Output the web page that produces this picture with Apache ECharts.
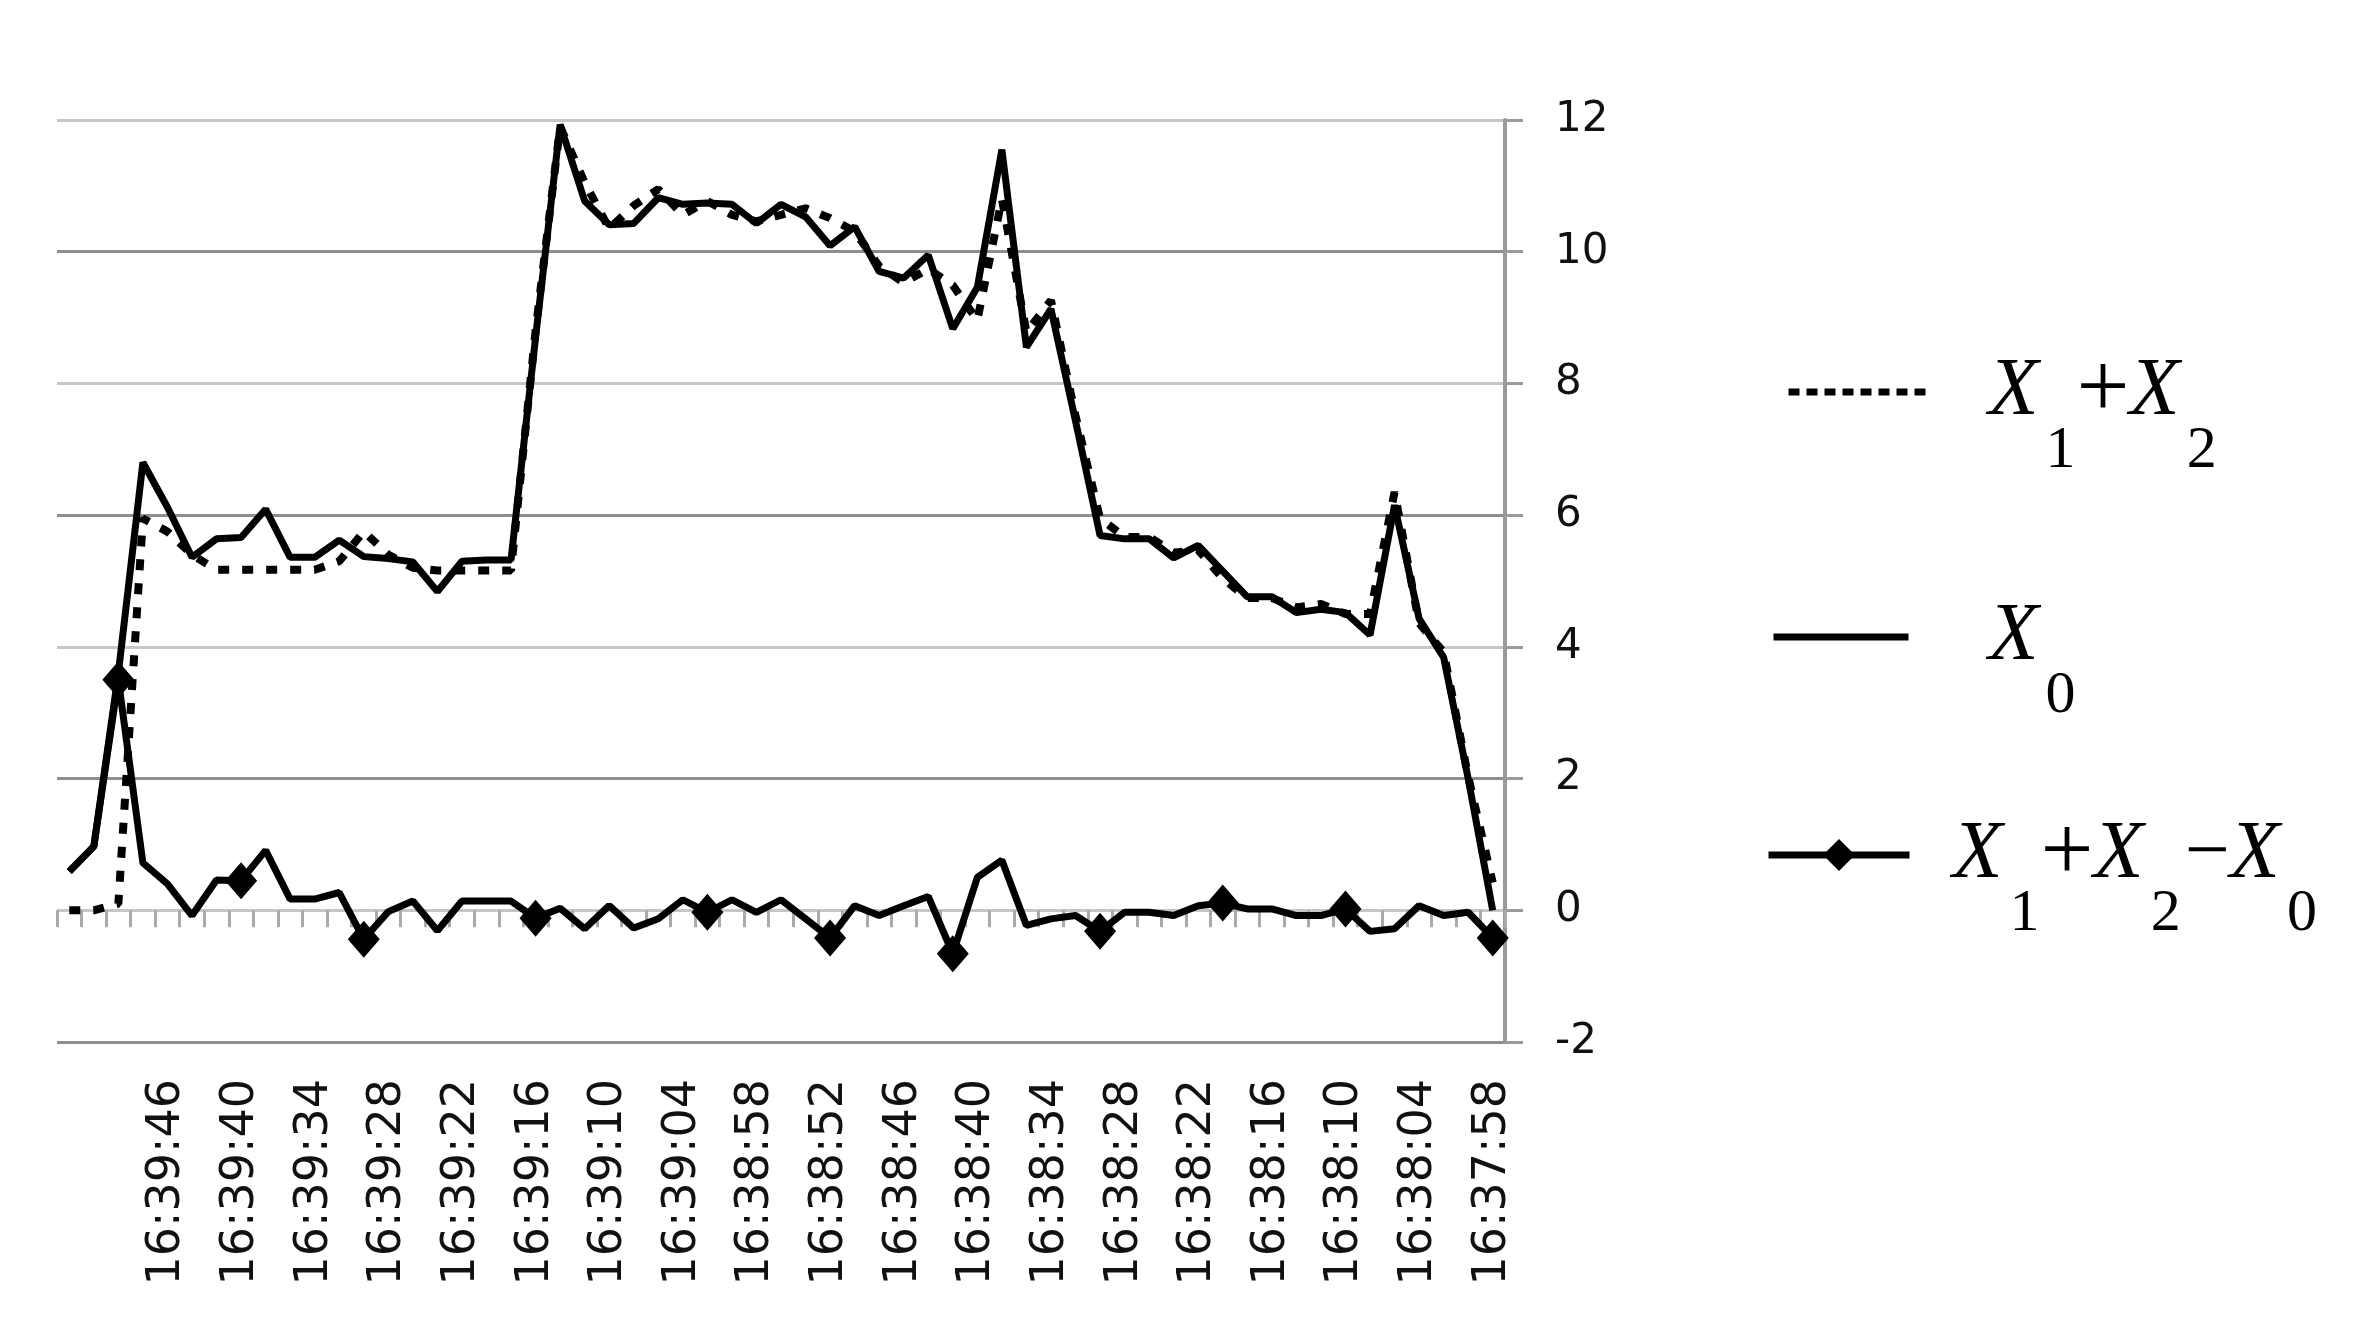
<!DOCTYPE html>
<html>
<head>
<meta charset="utf-8">
<script src="https://cdn.jsdelivr.net/npm/echarts@6/dist/echarts.min.js"></script>
<style>
html,body{margin:0;padding:0;background:#fff;}
#chart{width:2357px;height:1328px;}
</style>
</head>
<body>
<div id="chart"></div>
<script>
// categories in display order (left to right)
const categories = ['16:39:54','16:39:52','16:39:50','16:39:48','16:39:46','16:39:44','16:39:42','16:39:40','16:39:38','16:39:36','16:39:34','16:39:32','16:39:30','16:39:28','16:39:26','16:39:24','16:39:22','16:39:20','16:39:18','16:39:16','16:39:14','16:39:12','16:39:10','16:39:08','16:39:06','16:39:04','16:39:02','16:39:00','16:38:58','16:38:56','16:38:54','16:38:52','16:38:50','16:38:48','16:38:46','16:38:44','16:38:42','16:38:40','16:38:38','16:38:36','16:38:34','16:38:32','16:38:30','16:38:28','16:38:26','16:38:24','16:38:22','16:38:20','16:38:18','16:38:16','16:38:14','16:38:12','16:38:10','16:38:08','16:38:06','16:38:04','16:38:02','16:38:00','16:37:58'];

const tickLabels = ['16:39:46','16:39:40','16:39:34','16:39:28','16:39:22','16:39:16','16:39:10','16:39:04','16:38:58','16:38:52','16:38:46','16:38:40','16:38:34','16:38:28','16:38:22','16:38:16','16:38:10','16:38:04','16:37:58'];

const yTicks = [-2, 0, 2, 4, 6, 8, 10, 12];

const sumX1X2 = [0.0,0.0,0.1,5.95,5.75,5.4,5.17,5.17,5.17,5.17,5.17,5.3,5.75,5.4,5.2,5.16,5.16,5.16,5.16,8.8,11.9,11.05,10.35,10.7,10.95,10.56,10.77,10.56,10.46,10.56,10.66,10.51,10.31,9.78,9.53,9.74,9.49,8.96,10.8,8.78,9.26,7.51,5.95,5.67,5.67,5.43,5.47,5.04,4.74,4.74,4.6,4.65,4.5,4.5,6.35,4.36,3.92,2.03,0.42];

const x0 = [0.59,0.97,3.6,6.8,6.12,5.36,5.64,5.66,6.09,5.36,5.36,5.62,5.37,5.34,5.29,4.84,5.3,5.32,5.32,8.7,11.93,10.77,10.41,10.43,10.82,10.72,10.74,10.72,10.43,10.72,10.53,10.09,10.38,9.7,9.6,9.95,8.83,9.46,11.55,8.55,9.13,7.43,5.69,5.64,5.64,5.35,5.54,5.15,4.76,4.76,4.52,4.57,4.52,4.18,6.15,4.43,3.84,2.0,0.0];

const diff = [0.59,0.97,3.5,0.72,0.4,-0.08,0.46,0.45,0.91,0.17,0.17,0.27,-0.44,-0.02,0.14,-0.31,0.14,0.14,0.14,-0.12,0.03,-0.28,0.07,-0.27,-0.13,0.16,-0.03,0.16,-0.03,0.16,-0.13,-0.42,0.07,-0.08,0.07,0.21,-0.66,0.5,0.76,-0.23,-0.13,-0.08,-0.32,-0.03,-0.03,-0.08,0.07,0.11,0.02,0.02,-0.08,-0.08,0.02,-0.32,-0.28,0.07,-0.08,-0.03,-0.42];

// indices of the points that carry a diamond marker
const markedPoints = [2, 7, 12, 19, 26, 31, 36, 42, 47, 52, 58];

const seriesNames = ['X1+X2', 'X0', 'X1+X2\u2212X0'];

const legendRich = {
  x: { fontFamily: 'Liberation Serif', fontStyle: 'italic', fontSize: 82, color: '#000' },
  s: { fontFamily: 'Liberation Serif', fontSize: 60, color: '#000', padding: [118, 0, 0, 7] },
  o: { fontFamily: 'Liberation Serif', fontSize: 94, color: '#000', padding: [0, 0, 0, 1] },
  m: { fontFamily: 'Liberation Serif', fontSize: 80, color: '#000', padding: [0, 0, 0, 4] }
};
const legendText = {
  'X1+X2': '{x|X}{s|1}{o|+}{x|X}{s|2}',
  'X0': '{x|X}{s|0}',
  'X1+X2\u2212X0': '{x|X}{s|1}{o|+}{x|X}{s|2}{m|\u2212}{x|X}{s|0}'
};

const chart = echarts.init(document.getElementById('chart'), null, { renderer: 'canvas' });

const gray = '#9a9a9a';

function makeLegend(name, left, top, width, padLeft, extra) {
  return {
    data: [Object.assign({ name: name }, extra || {})],
    left: left,
    top: top,
    padding: 0,
    itemWidth: width,
    itemHeight: 40,
    selectedMode: false,
    formatter: function (n) { return legendText[n]; },
    textStyle: { rich: legendRich, padding: [0, 0, 0, padLeft] }
  };
}

const option = {
  animation: false,
  backgroundColor: '#fff',
  grid: { left: 57, right: 852, top: 120, bottom: 286, containLabel: false },
  legend: [
    makeLegend(seriesNames[0], 1785, 345, 143, 52, { itemStyle: { opacity: 0 }, lineStyle: { width: 7, type: [11, 7] } }),
    makeLegend(seriesNames[1], 1770, 596, 135, 75, { itemStyle: { opacity: 0 }, lineStyle: { width: 7 } }),
    makeLegend(seriesNames[2], 1765, 808, 141, 38, { lineStyle: { width: 7 } })
  ],
  xAxis: [
    {
      type: 'category',
      data: categories,
      boundaryGap: true,
      position: 'bottom',
      axisLine: { show: false, onZero: false },
      axisTick: { show: false },
      splitLine: { show: false },
      axisLabel: {
        rotate: 90,
        margin: 37,
        fontFamily: 'DejaVu Sans',
        fontSize: 46,
        color: '#111',
        interval: function (index, value) { return tickLabels.indexOf(value) >= 0; }
      }
    },
    {
      type: 'category',
      data: categories,
      boundaryGap: true,
      position: 'bottom',
      axisLine: { show: false, onZero: true },
      axisTick: { show: true, interval: 0, length: 17, lineStyle: { color: '#aaaaaa', width: 3 } },
      axisLabel: { show: false },
      splitLine: { show: false }
    }
  ],
  yAxis: {
    type: 'value',
    position: 'right',
    min: yTicks[0],
    max: yTicks[yTicks.length - 1],
    interval: 2,
    axisLine: { show: true, lineStyle: { color: gray, width: 4 } },
    axisTick: { show: true, length: 18, lineStyle: { color: gray, width: 3 } },
    splitLine: { show: true, lineStyle: { color: ['#8e8e8e', '#c6c6c6'], width: 3 } },
    axisLabel: {
      margin: 50,
      align: 'left',
      fontFamily: 'DejaVu Sans',
      fontSize: 42,
      color: '#111'
    }
  },
  series: [
    {
      name: seriesNames[0],
      type: 'line',
      data: sumX1X2,
      symbol: 'none',
      lineStyle: { color: '#000', width: 8, type: [11, 13], cap: 'butt' },
      itemStyle: { color: '#000' },
      z: 3
    },
    {
      name: seriesNames[1],
      type: 'line',
      data: x0,
      symbol: 'none',
      lineStyle: { color: '#000', width: 7 },
      itemStyle: { color: '#000' },
      z: 2
    },
    {
      name: seriesNames[2],
      type: 'line',
      data: diff.map(function (v, i) {
        return markedPoints.indexOf(i) >= 0 ? { value: v } : { value: v, symbol: 'none' };
      }),
      symbol: 'diamond',
      symbolSize: [32, 37],
      showSymbol: true,
      showAllSymbol: true,
      lineStyle: { color: '#000', width: 7 },
      itemStyle: { color: '#000' },
      z: 4
    }
  ]
};

chart.setOption(option);
</script>
</body>
</html>
